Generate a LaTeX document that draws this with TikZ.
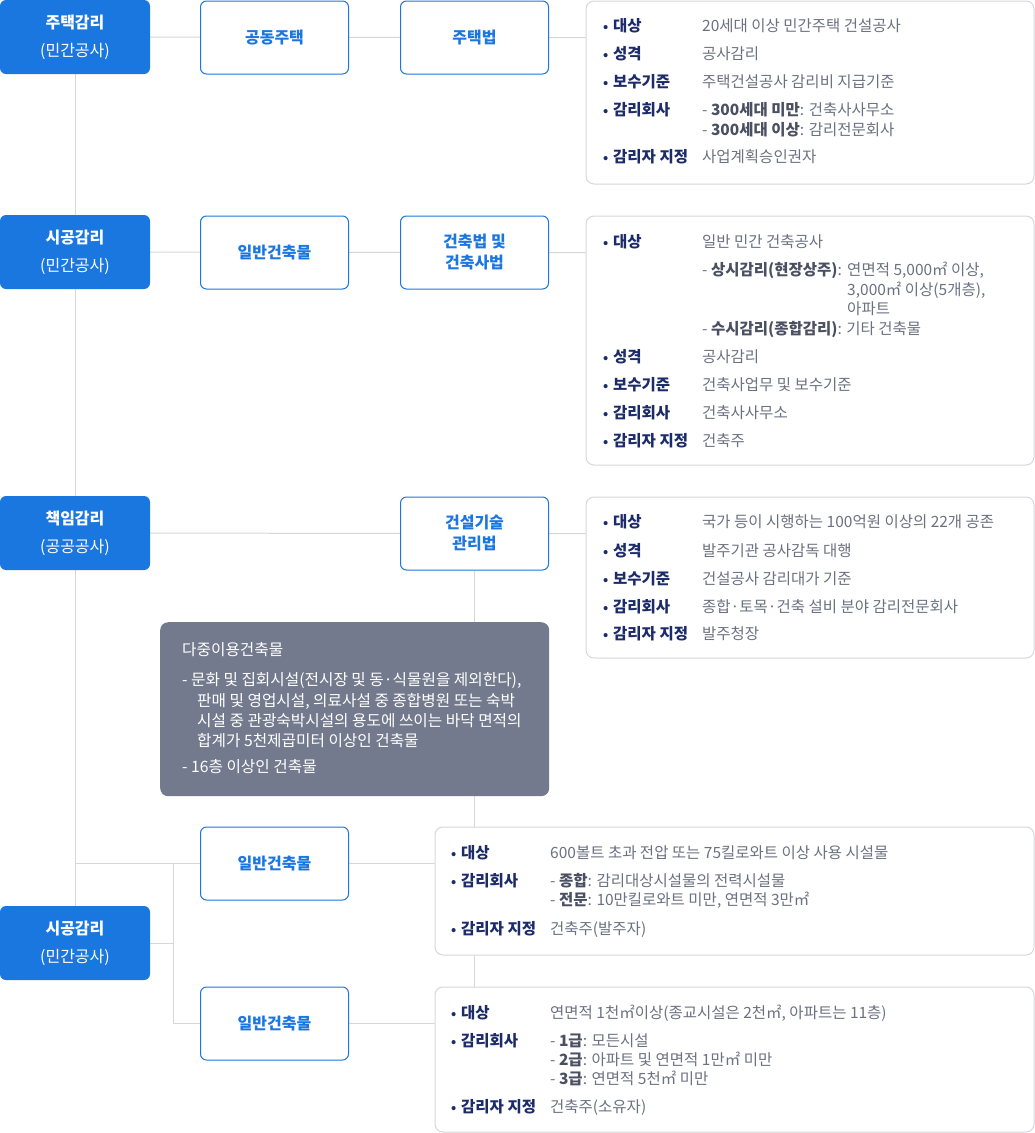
\documentclass[tikz,border=0pt]{standalone}
\usepackage{fontspec}
\setmainfont{Noto Sans CJK KR}
\usetikzlibrary{backgrounds,calc}
\definecolor{mainblue}{HTML}{1B77E0}
\definecolor{connc}{HTML}{D6D7DD}
\definecolor{infoborder}{HTML}{D6D7DE}
\definecolor{grayfill}{HTML}{737A8D}
\definecolor{navy}{HTML}{1C2B69}
\definecolor{valgray}{HTML}{6C7181}
\definecolor{valdark}{HTML}{4A5061}
\newcommand\vb[1]{{\bfseries\color{valdark}#1}}
\newcommand\kitem[5]{\node[bul] (#1b) at (#2,#4) {•}; \node[lbl] (#1l) at (#3,#4) {#5};}
\begin{document}
\begin{tikzpicture}[x=1pt,y=-1pt,
  bluebox/.style={fill=mainblue, text=white, rounded corners=6pt, minimum width=150pt, minimum height=74pt, align=center, inner sep=0pt, font=\fontsize{16}{28}\selectfont},
  linebox/.style={draw=mainblue, line width=1pt, fill=white, text=mainblue, rounded corners=6pt, minimum width=148pt, minimum height=73pt, align=center, inner sep=0pt, font=\fontsize{16}{21}\selectfont\bfseries},
  infobox/.style={draw=infoborder, line width=1pt, fill=white, rounded corners=8pt, anchor=north west, inner sep=0pt},
  graybox/.style={fill=grayfill, rounded corners=8pt, anchor=north west, inner sep=0pt, minimum width=389pt, minimum height=174pt},
  conn/.style={draw=connc, line width=1pt},
  bul/.style={anchor=base west, inner sep=0pt, text=navy, font=\fontsize{13}{17}\selectfont\bfseries},
  lbl/.style={anchor=base west, inner sep=0pt, text=navy, font=\fontsize{15.5}{18}\selectfont\bfseries},
  val/.style={anchor=base west, inner sep=0pt, text=valgray, font=\fontsize{15.5}{18}\selectfont},
  gtxt/.style={anchor=base west, inner sep=0pt, text=white, font=\fontsize{15.7}{18}\selectfont}
]
\useasboundingbox (0,0) rectangle (1035,1133);

% left column
\node[bluebox] (b1) at (75,37) {\textbf{주택감리}\\(민간공사)};
\node[bluebox] (b2) at (75,252) {\textbf{시공감리}\\(민간공사)};
\node[bluebox] (b3) at (75,533) {\textbf{책임감리}\\(공공공사)};
\node[bluebox] (b4) at (75,943) {\textbf{시공감리}\\(민간공사)};

% outlined boxes
\node[linebox] (o1) at (274.5,37.5) {공동주택};
\node[linebox] (l1) at (474.5,37.5) {주택법};
\node[linebox] (o2) at (274.5,252.5) {일반건축물};
\node[linebox] (l2) at (474.5,252.5) {건축법 및\\건축사법};
\node[linebox] (l3) at (474.5,533.5) {건설기술\\관리법};
\node[linebox] (oA) at (274.5,863.5) {일반건축물};
\node[linebox] (oB) at (274.5,1023.5) {일반건축물};

% info boxes
\node[infobox, minimum width=448pt, minimum height=183pt] (i1) at (585.5,0.5) {};
\node[infobox, minimum width=448pt, minimum height=249pt] (i2) at (585.5,215.5) {};
\node[infobox, minimum width=448pt, minimum height=161pt] (i3) at (585.5,496.5) {};
\node[infobox, minimum width=599pt, minimum height=128pt] (i4) at (434.5,826.5) {};
\node[infobox, minimum width=599pt, minimum height=145pt] (i5) at (434.5,986.5) {};

% gray box
\node[graybox] (g) at (160,622) {};

% connectors
\begin{scope}[on background layer]
\draw[conn] (b1.center) -- (l1.center) -- (l1.center -| i1.west);
\draw[conn] (b2.center) -- (l2.center) -- (l2.center -| i2.west);
\draw[conn] (b3.center) -- (l3.center) -- (l3.center -| i3.west);
\draw[conn] (b1.south) -- (b4.north);
\draw[conn] (l3.south) -- (l3.south |- i5.north);
\coordinate (jt) at (173,863.5);
\coordinate (jb) at (173,1023.5);
\draw[conn] (b1.south |- oA.west) -- (oA.west);
\draw[conn] (b4.east) -- (b4.east -| jt);
\draw[conn] (jt) -- (jb) -- (oB.west);
\draw[conn] (oA.east) -- (oA.east -| i4.west);
\draw[conn] (oB.east) -- (oB.east -| i5.west);
\end{scope}

% info 1
\kitem{a1}{603}{613}{31}{대상}
\node[val] (a1v) at (702,31) {20세대 이상 민간주택 건설공사};
\kitem{a2}{603}{613}{59}{성격}
\node[val] (a2v) at (702,59) {공사감리};
\kitem{a3}{603}{613}{87}{보수기준}
\node[val] (a3v) at (702,87) {주택건설공사 감리비 지급기준};
\kitem{a4}{603}{613}{115}{감리회사}
\node[val] (a4v) at (702,115) {- \vb{300세대 미만}: 건축사사무소};
\node[val] (a4w) at (702,135) {- \vb{300세대 이상}: 감리전문회사};
\kitem{a5}{603}{613}{162}{감리자 지정}
\node[val] (a5v) at (702,162) {사업계획승인권자};

% info 2
\kitem{c1}{603}{613}{247}{대상}
\node[val] (c1v) at (702,247) {일반 민간 건축공사};
\node[val] (c1s) at (702,275) {- \vb{상시감리(현장상주)}:};
\node[val] (c1t) at ([xshift=5pt]c1s.base east) {연면적 5,000㎡ 이상,};
\node[val] (c1u) at ([yshift=-20pt]c1t.base west) {3,000㎡ 이상(5개층),};
\node[val] (c1x) at ([yshift=-19pt]c1u.base west) {아파트};
\node[val] (c1y) at (702,334) {- \vb{수시감리(종합감리)}: 기타 건축물};
\kitem{c2}{603}{613}{362}{성격}
\node[val] (c2v) at (702,362) {공사감리};
\kitem{c3}{603}{613}{390}{보수기준}
\node[val] (c3v) at (702,390) {건축사업무 및 보수기준};
\kitem{c4}{603}{613}{418}{감리회사}
\node[val] (c4v) at (702,418) {건축사사무소};
\kitem{c5}{603}{613}{446}{감리자 지정}
\node[val] (c5v) at (702,446) {건축주};

% info 3
\kitem{d1}{603}{613}{527}{대상}
\node[val] (d1v) at (702,527) {국가 등이 시행하는 100억원 이상의 22개 공존};
\kitem{d2}{603}{613}{556}{성격}
\node[val] (d2v) at (702,556) {발주기관 공사감독 대행};
\kitem{d3}{603}{613}{584}{보수기준}
\node[val] (d3v) at (702,584) {건설공사 감리대가 기준};
\kitem{d4}{603}{613}{612}{감리회사}
\node[val] (d4v) at (702,612) {종합·토목·건축 설비 분야 감리전문회사};
\kitem{d5}{603}{613}{639}{감리자 지정}
\node[val] (d5v) at (702,639) {발주청장};

% gray box text
\node[gtxt] (g0) at (182,655) {다중이용건축물};
\node[gtxt] (g1) at (182,685) {- 문화 및 집회시설(전시장 및 동·식물원을 제외한다),};
\node[gtxt] (g2) at (197,706) {판매 및 영업시설, 의료사설 중 종합병원 또는 숙박};
\node[gtxt] (g3) at (197,726) {시설 중 관광숙박시설의 용도에 쓰이는 바닥 면적의};
\node[gtxt] (g4) at (197,746) {합계가 5천제곱미터 이상인 건축물};
\node[gtxt] (g5) at (182,772) {- 16층 이상인 건축물};

% info 4
\kitem{e1}{451}{461}{858}{대상}
\node[val] (e1v) at (550,858) {600볼트 초과 전압 또는 75킬로와트 이상 사용 시설물};
\kitem{e2}{451}{461}{886}{감리회사}
\node[val] (e2v) at (550,886) {- \vb{종합}: 감리대상시설물의 전력시설물};
\node[val] (e2w) at (550,905) {- \vb{전문}: 10만킬로와트 미만, 연면적 3만㎡};
\kitem{e3}{451}{461}{934}{감리자 지정}
\node[val] (e3v) at (550,934) {건축주(발주자)};

% info 5
\kitem{f1}{451}{461}{1018}{대상}
\node[val] (f1v) at (550,1018) {연면적 1천㎡이상(종교시설은 2천㎡, 아파트는 11층)};
\kitem{f2}{451}{461}{1046}{감리회사}
\node[val] (f2v) at (550,1046) {- \vb{1급}: 모든시설};
\node[val] (f2w) at (550,1065) {- \vb{2급}: 아파트 및 연면적 1만㎡ 미만};
\node[val] (f2x) at (550,1084) {- \vb{3급}: 연면적 5천㎡ 미만};
\kitem{f3}{451}{461}{1112}{감리자 지정}
\node[val] (f3v) at (550,1112) {건축주(소유자)};
\end{tikzpicture}
\end{document}
